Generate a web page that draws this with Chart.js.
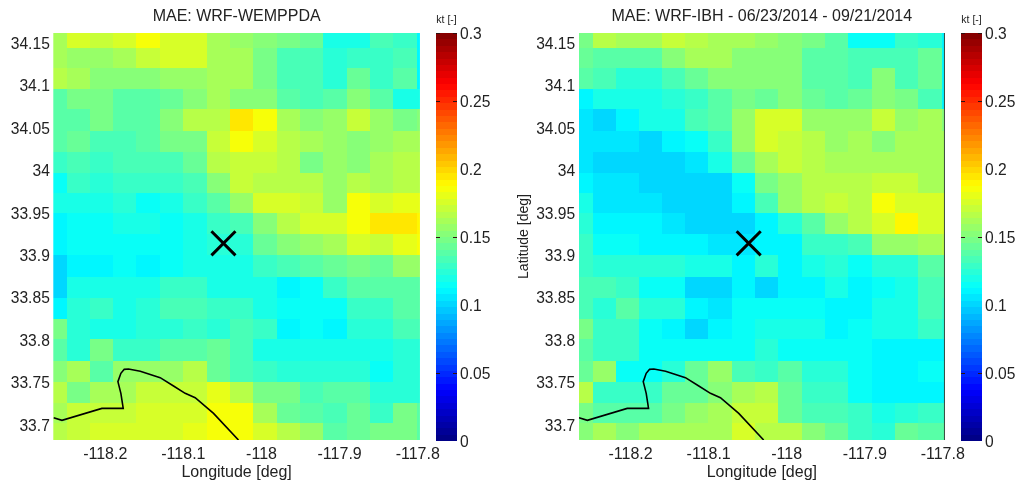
<!DOCTYPE html>
<html><head><meta charset="utf-8">
<style>
html,body{margin:0;padding:0;background:#fff;width:1018px;height:483px;overflow:hidden}
canvas{position:absolute;top:0;filter:blur(0.35px)}
</style>
<script src="https://cdn.jsdelivr.net/npm/chart.js@4/dist/chart.umd.min.js"></script>
</head><body>
<canvas id="p1" style="left:0" width="445" height="483"></canvas>
<canvas id="c1" style="left:425px" width="75" height="483"></canvas>
<canvas id="p2" style="left:500px" width="470" height="483"></canvas>
<canvas id="c2" style="left:950px" width="75" height="483"></canvas>
<script>
const lonTicks=[-118.2,-118.1,-118,-117.9,-117.8];
const latTicks=[33.7,33.75,33.8,33.85,33.9,33.95,34,34.05,34.1,34.15];
const barTicks=[0,0.05,0.1,0.15,0.2,0.25,0.3];
const barMarks=[0.05,0.15,0.25,0.3];
const lonEdges=[-118.2665,-118.2486,-118.2192,-118.1898,-118.1604,-118.1297,-118.1003,-118.0696,-118.0402,-118.0107,-117.9801,-117.9506,-117.9212,-117.8905,-117.8611,-117.8317,-117.801,-117.7972];
const latEdges=[34.1614,34.1441,34.1198,34.0951,34.0718,34.0462,34.0215,33.996,33.9724,33.9488,33.9241,33.8996,33.874,33.8486,33.8238,33.8002,33.775,33.7502,33.7255,33.7015,33.6815];
const maeWemppda=[
[.163,.177,.172,.175,.184,.176,.176,.162,.155,.15,.148,.145,.118,.118,.135,.13,.112],
[.163,.158,.158,.163,.172,.174,.174,.162,.16,.148,.135,.132,.126,.13,.13,.135,.11],
[.165,.16,.15,.15,.15,.155,.155,.16,.16,.148,.135,.132,.125,.143,.13,.137,.11],
[.14,.148,.148,.14,.14,.145,.15,.16,.153,.153,.14,.134,.138,.152,.14,.118,.12],
[.138,.14,.148,.14,.14,.15,.165,.165,.195,.187,.163,.15,.155,.172,.155,.147,.15],
[.137,.145,.135,.135,.14,.147,.147,.172,.185,.175,.165,.162,.157,.15,.155,.162,.162],
[.13,.135,.127,.133,.133,.135,.145,.168,.17,.17,.165,.147,.157,.15,.16,.165,.165],
[.115,.13,.125,.13,.13,.13,.133,.15,.172,.165,.165,.165,.155,.167,.162,.167,.167],
[.118,.118,.118,.124,.116,.12,.128,.14,.155,.176,.176,.172,.155,.184,.175,.182,.182],
[.11,.116,.117,.119,.119,.117,.12,.128,.135,.15,.165,.176,.178,.183,.193,.193,.19],
[.112,.113,.113,.116,.116,.116,.118,.122,.125,.142,.15,.155,.16,.175,.172,.18,.187],
[.103,.112,.112,.117,.11,.115,.118,.118,.12,.127,.133,.137,.143,.148,.142,.155,.155],
[.103,.12,.12,.12,.12,.128,.13,.118,.118,.118,.112,.115,.127,.136,.136,.14,.14],
[.11,.122,.13,.12,.124,.135,.135,.13,.13,.118,.113,.117,.117,.13,.13,.14,.14],
[.148,.122,.12,.12,.122,.122,.128,.123,.132,.127,.112,.117,.111,.123,.123,.135,.135],
[.14,.125,.146,.13,.13,.14,.14,.142,.132,.118,.118,.118,.118,.118,.118,.125,.125],
[.15,.163,.138,.155,.157,.157,.168,.143,.132,.127,.122,.122,.122,.124,.115,.122,.122],
[.167,.147,.163,.163,.172,.172,.172,.18,.168,.148,.147,.132,.14,.14,.122,.122,.122],
[.163,.172,.172,.172,.176,.178,.178,.187,.185,.16,.145,.14,.135,.143,.127,.148,.14],
[.165,.172,.178,.178,.178,.178,.182,.185,.187,.175,.165,.155,.14,.145,.148,.148,.14]];
const maeIbh=[
[.148,.168,.163,.163,.172,.165,.163,.163,.158,.15,.146,.14,.115,.115,.13,.122,.112],
[.143,.137,.137,.137,.15,.16,.16,.153,.152,.152,.14,.14,.135,.135,.135,.142,.11],
[.14,.132,.125,.122,.132,.143,.15,.153,.152,.152,.14,.14,.134,.15,.133,.142,.11],
[.112,.12,.12,.118,.122,.128,.138,.146,.145,.15,.143,.138,.145,.152,.147,.133,.11],
[.107,.1,.111,.119,.12,.132,.14,.155,.178,.178,.155,.155,.155,.172,.158,.16,.15],
[.105,.106,.106,.1,.111,.117,.127,.155,.175,.17,.168,.155,.16,.152,.16,.16,.16],
[.105,.1,.1,.1,.1,.107,.118,.145,.162,.172,.166,.16,.16,.16,.16,.16,.16],
[.112,.105,.105,.1,.1,.1,.1,.115,.147,.158,.168,.168,.168,.172,.17,.162,.162],
[.12,.105,.105,.104,.1,.1,.1,.108,.132,.155,.168,.173,.168,.184,.178,.178,.178],
[.125,.111,.111,.111,.104,.1,.1,.1,.112,.122,.14,.155,.165,.178,.19,.178,.178],
[.13,.115,.115,.11,.11,.11,.105,.105,.112,.112,.13,.128,.135,.155,.155,.16,.165],
[.13,.122,.122,.122,.124,.118,.118,.112,.122,.112,.12,.125,.116,.122,.126,.14,.14],
[.135,.133,.127,.115,.115,.102,.102,.11,.102,.11,.11,.12,.112,.117,.118,.132,.132],
[.135,.125,.138,.125,.125,.11,.104,.113,.115,.115,.115,.11,.11,.118,.12,.132,.13],
[.148,.13,.13,.115,.11,.103,.11,.115,.118,.118,.118,.11,.116,.118,.12,.128,.125],
[.14,.13,.13,.113,.113,.113,.113,.117,.122,.117,.117,.113,.113,.11,.112,.112,.112],
[.145,.158,.117,.117,.123,.145,.155,.133,.13,.14,.125,.122,.116,.11,.11,.116,.116],
[.165,.13,.13,.13,.142,.145,.15,.16,.165,.143,.13,.127,.114,.11,.11,.11,.11],
[.148,.14,.14,.14,.147,.157,.16,.172,.17,.143,.135,.132,.128,.118,.122,.127,.127],
[.152,.16,.15,.16,.16,.162,.162,.175,.168,.165,.153,.145,.128,.122,.145,.14,.14]];
const coastLon=[-118.2661,-118.2554,-118.2043,-118.177,-118.18,-118.1838,-118.18,-118.1757,-118.1702,-118.1552,-118.1297,-118.1126,-118.0977,-118.0849,-118.0614,-118.0295];
const coastLat=[33.7078,33.7047,33.7188,33.7188,33.7365,33.7503,33.7601,33.7648,33.7652,33.7625,33.755,33.7452,33.7365,33.7314,33.7129,33.6815];
const siteLon=[-118.0487];
const siteLat=[33.9134];
const FONT='"Liberation Sans", Arial, sans-serif', INK='#222';

function jet(v){
  const i=Math.max(0,Math.min(63,Math.floor(v/0.3*64)));
  const t=(i+.5)/64, c=x=>Math.round(255*Math.max(0,Math.min(1,x)));
  return `rgb(${c(Math.min(4*t-1.5,-4*t+4.5))},${c(Math.min(4*t-.5,-4*t+3.5))},${c(Math.min(4*t+.5,-4*t+2.5))})`;
}
const heatPlugin={id:'heat',beforeDatasetsDraw(chart){
  const {ctx,scales:{x,y},chartArea:a}=chart, meta=chart.data.datasets[0];
  ctx.save();ctx.beginPath();ctx.rect(a.left,a.top,a.right-a.left,a.bottom-a.top);ctx.clip();
  for(const c of meta.data){
    const x0=Math.round(x.getPixelForValue(c.x0)),x1=Math.round(x.getPixelForValue(c.x1));
    const y0=Math.round(y.getPixelForValue(c.y0)),y1=Math.round(y.getPixelForValue(c.y1));
    ctx.fillStyle=jet(c.v);ctx.fillRect(x0,y0,x1-x0,y1-y0);
  }
  ctx.restore();
}};
const edgePlugin={id:'edge',afterDatasetsDraw(chart,args,o){
  if(!o.color)return;
  const {ctx,chartArea:a}=chart;
  ctx.save();ctx.fillStyle=o.color;ctx.fillRect(a.right-1,a.top,1,a.bottom-a.top);ctx.restore();
}};
function panel(id,titleText,grid,rightPad,yTitle,yWidth,edge){
  const cells=[];
  grid.forEach((row,r)=>row.forEach((v,c)=>cells.push({x:(lonEdges[c]+lonEdges[c+1])/2,y:(latEdges[r]+latEdges[r+1])/2,x0:lonEdges[c],x1:lonEdges[c+1],y0:latEdges[r],y1:latEdges[r+1],v})));
  new Chart(document.getElementById(id),{
    type:'scatter',
    data:{datasets:[
      {label:'MAE',data:cells,pointRadius:0,pointHoverRadius:0},
      {label:'Coast',data:coastLon.map((x,i)=>({x,y:coastLat[i]})),showLine:true,borderColor:'#000',borderWidth:1.6,pointRadius:0,tension:0,fill:false},
      {label:'Site',data:siteLon.map((x,i)=>({x,y:siteLat[i]})),pointStyle:'crossRot',pointRadius:17,borderColor:'#000',borderWidth:3,pointBorderWidth:3,backgroundColor:'#000'}
    ]},
    plugins:[heatPlugin,edgePlugin],
    options:{responsive:false,animation:false,events:[],
      layout:{padding:{top:0,right:rightPad,bottom:0,left:0}},
      plugins:{legend:{display:false},tooltip:{enabled:false},edge:{color:edge},
        title:{display:true,text:titleText,fullSize:false,color:INK,font:{family:FONT,size:16,weight:'normal',lineHeight:1.2},padding:{top:7,bottom:6.8}}},
      scales:{
        x:{type:'linear',min:lonEdges[0],max:lonEdges[lonEdges.length-1],
          afterBuildTicks:s=>{s.ticks=lonTicks.map(value=>({value}))},
          afterFit:s=>{s.height=43},
          grid:{display:false,drawTicks:false},border:{display:false},
          ticks:{autoSkip:false,maxRotation:0,color:INK,font:{family:FONT,size:16},padding:5,callback:v=>String(v)},
          title:{display:true,text:'Longitude [deg]',color:INK,font:{family:FONT,size:16},padding:{top:-1,bottom:1}}},
        y:{type:'linear',min:latEdges[latEdges.length-1],max:latEdges[0],
          afterBuildTicks:s=>{s.ticks=latTicks.map(value=>({value}))},
          afterFit:s=>{s.width=yWidth},
          grid:{display:false,drawTicks:false},border:{display:false},
          ticks:{autoSkip:false,color:INK,font:{family:FONT,size:15.6},padding:3.5,labelOffset:2,callback:v=>String(v)},
          title:{display:yTitle,text:'Latitude [deg]',color:INK,font:{family:FONT,size:14},padding:{top:15.5,bottom:0}}}
      }}
  });
}
const levels=Array.from({length:64},(_,i)=>i);
const markPlugin={id:'marks',afterDatasetsDraw(chart){
  const {ctx,scales:{y},chartArea:a}=chart;
  ctx.save();ctx.fillStyle='#301010';
  for(const m of barMarks){
    const p=Math.min(Math.round(y.getPixelForValue(m)),a.bottom-1);
    ctx.fillRect(a.left,p,4,1);ctx.fillRect(a.right-4,p,4,1);
  }
  ctx.restore();
}};
const colorPlugin={id:'ramp',beforeDatasetsDraw(chart){
  const {ctx,scales:{y},chartArea:a}=chart;
  for(const i of levels){
    const top=Math.round(y.getPixelForValue((i+1)*0.3/64)),bot=Math.round(y.getPixelForValue(i*0.3/64));
    ctx.fillStyle=jet((i+.5)*0.3/64);ctx.fillRect(a.left,top,a.right-a.left,bot-top);
  }
}};
function colorbar(id,leftW){
  new Chart(document.getElementById(id),{
    type:'bar',
    data:{labels:['kt'],datasets:[{label:'scale',data:[0],backgroundColor:'transparent'}]},
    plugins:[colorPlugin,markPlugin],
    options:{responsive:false,animation:false,events:[],
      layout:{padding:{left:leftW,right:0,top:0,bottom:42}},
      plugins:{legend:{display:false},tooltip:{enabled:false},
        title:{display:true,text:'kt [-]',fullSize:false,color:INK,font:{family:FONT,size:10.5,weight:'normal',lineHeight:1.2},padding:{top:14,bottom:6.4}}},
      scales:{
        x:{display:false},
        y:{type:'linear',position:'right',min:0,max:0.3,
          afterBuildTicks:s=>{s.ticks=barTicks.map(value=>({value}))},
          afterFit:s=>{s.width=43},
          grid:{display:false,drawTicks:false},border:{display:false},
          ticks:{autoSkip:false,color:INK,font:{family:FONT,size:15.6},padding:3,labelOffset:2,callback:v=>String(v)}}
      }}
  });
}
panel('p1','MAE: WRF-WEMPPDA',maeWemppda,24.5,false,53.3,null);
panel('p2','MAE: WRF-IBH - 06/23/2014 - 09/21/2014',maeIbh,24.5,true,78.7,'#3a4a40');
colorbar('c1',11);
colorbar('c2',11);
</script>
</body></html>
